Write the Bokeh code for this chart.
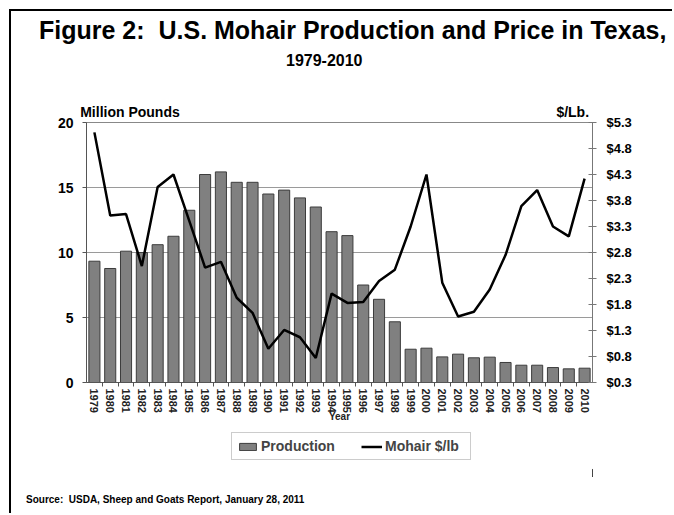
from bokeh.plotting import figure
from bokeh.layouts import column
from bokeh.models import (Range1d, LinearAxis, FixedTicker, NumeralTickFormatter,
                          Legend, LegendItem, Div)
from bokeh.embed import file_html
from bokeh.resources import INLINE

years = list(range(1979, 2011))
production = [9.33, 8.77, 10.1, 10.0, 10.6, 11.25, 13.25, 16.0, 16.2, 15.4, 15.4,
              14.5, 14.8, 14.2, 13.5, 11.6, 11.3, 7.5, 6.4, 4.67, 2.56, 2.64,
              1.97, 2.18, 1.9, 1.95, 1.54, 1.33, 1.33, 1.15, 1.05, 1.1]
price = [5.11, 3.51, 3.54, 2.54, 4.06, 4.3, 3.41, 2.51, 2.62, 1.93, 1.64,
         0.95, 1.31, 1.17, 0.77, 2.01, 1.83, 1.85, 2.25, 2.47, 3.3, 4.3,
         2.22, 1.57, 1.66, 2.09, 2.75, 3.69, 4.0, 3.3, 3.11, 4.22]
left_ticks = [0, 5, 10, 15, 20]
right_ticks = [0.3, 0.8, 1.3, 1.8, 2.3, 2.8, 3.3, 3.8, 4.3, 4.8, 5.3]
unit_labels = {1981.25: "Million Pounds", 2009.25: "$/Lb."}
title_1 = "Figure 2:  U.S. Mohair Production and Price in Texas,"
title_2 = "1979-2010"
source_note = "Source:  USDA, Sheep and Goats Report, January 28, 2011"

FONT = "Liberation Sans"
BAR_FILL = "#808080"
BAR_LINE = "#3c3c3c"

# ---- title strip
title_div = Div(
    width=672, height=98, margin=0,
    text=(f'<div style="font-family:\'{FONT}\';font-weight:bold;color:black;'
          f'white-space:pre;margin:15px 0 0 39px;font-size:25px;line-height:30px">{title_1}</div>'
          f'<div style="font-family:\'{FONT}\';font-weight:bold;color:black;'
          f'white-space:pre;margin:5.5px 0 0 286px;font-size:16px;line-height:20px">{title_2}</div>'))

# ---- main chart
p = figure(frame_width=506, frame_height=260, output_backend="svg",
           toolbar_location=None,
           x_range=Range1d(years[0] - 0.5, years[-1] + 0.5), y_range=Range1d(0, 20),
           min_border_left=86, min_border_right=73, min_border_top=24,
           min_border_bottom=45)
p.outline_line_color = "#888888"
p.background_fill_color = "white"
p.border_fill_color = None
p.extra_y_ranges = {"price": Range1d(0.3, 5.3)}

p.vbar(x=years, top=production, width=0.7, fill_color=BAR_FILL,
       line_color=BAR_LINE, line_width=1)
p.line(x=years, y=price, y_range_name="price", line_color="black", line_width=2.5)

p.xgrid.grid_line_color = None
p.ygrid.ticker = FixedTicker(ticks=[5, 10, 15])
p.ygrid.grid_line_color = "#9a9a9a"

ya = p.yaxis[0]
ya.ticker = FixedTicker(ticks=left_ticks)
ya.axis_line_color = "#555555"
ya.major_tick_line_color = "#555555"
ya.major_tick_out = 4
ya.major_tick_in = 0
ya.minor_tick_line_color = None
ya.major_label_text_font = FONT
ya.major_label_text_font_style = "bold"
ya.major_label_text_font_size = "14px"
ya.major_label_text_color = "black"
ya.major_label_standoff = 9

xa = p.xaxis[0]
xa.ticker = FixedTicker(ticks=years, minor_ticks=[y + 0.5 for y in years[:-1]])
xa.formatter = NumeralTickFormatter(format="0")
xa.axis_line_color = "#555555"
xa.major_tick_line_color = None
xa.minor_tick_line_color = "#555555"
xa.minor_tick_out = 4
xa.minor_tick_in = 0
xa.major_tick_out = 4
xa.major_tick_in = 0
xa.major_label_orientation = "vertical"
xa.major_label_text_font = FONT
xa.major_label_text_font_size = "11px"
xa.major_label_text_font_style = "bold"
xa.major_label_text_color = "#222222"
xa.major_label_standoff = 2
xa.axis_label = "Year"
xa.axis_label_text_font = FONT
xa.axis_label_text_font_size = "10px"
xa.axis_label_text_font_style = "bold"
xa.axis_label_text_color = "#222222"
xa.axis_label_standoff = -5

ra = LinearAxis(y_range_name="price", ticker=FixedTicker(ticks=right_ticks),
                formatter=NumeralTickFormatter(format="$0.0"))
ra.axis_line_color = "#777777"
ra.major_tick_line_color = "#777777"
ra.major_tick_out = 4
ra.major_tick_in = 4
ra.minor_tick_line_color = None
ra.major_label_text_font = FONT
ra.major_label_text_font_style = "bold"
ra.major_label_text_font_size = "13px"
ra.major_label_text_color = "black"
ra.major_label_standoff = 10
p.add_layout(ra, "right")

ua = LinearAxis(ticker=FixedTicker(ticks=list(unit_labels.keys())),
                major_label_overrides=unit_labels)
ua.axis_line_color = None
ua.major_tick_line_color = None
ua.major_tick_out = 0
ua.major_tick_in = 0
ua.minor_tick_line_color = None
ua.major_label_text_font = FONT
ua.major_label_text_font_style = "bold"
ua.major_label_text_font_size = "14px"
ua.major_label_text_color = "black"
ua.major_label_standoff = 3
p.add_layout(ua, "above")

# ---- legend strip (key glyphs use the real series, which fall outside this strip's ranges)
p2 = figure(frame_width=506, frame_height=50, output_backend="svg",
            toolbar_location=None, x_range=Range1d(0, 1000), y_range=Range1d(0, 100),
            x_axis_location=None, y_axis_location=None,
            min_border_left=86, min_border_right=73, min_border_top=0,
            min_border_bottom=0)
p2.outline_line_color = None
p2.background_fill_color = None
p2.border_fill_color = None
p2.grid.visible = False

key_bar = p2.vbar(x=years, top=production, width=0.7, fill_color=BAR_FILL,
                  line_color=BAR_LINE, line_width=1)
key_line = p2.line(x=years, y=price, line_color="black", line_width=2.5)

legend = Legend(items=[LegendItem(label="Production", renderers=[key_bar]),
                       LegendItem(label="Mohair $/lb", renderers=[key_line])],
                location=(145, 17), orientation="horizontal",
                label_text_font=FONT, label_text_font_style="bold",
                label_text_font_size="14px", glyph_width=21, glyph_height=9,
                label_standoff=3, label_width=80, spacing=20, padding=5,
                margin=0, border_line_color="#999999", label_height=15,
                background_fill_color="white")
p2.add_layout(legend, "center")

# ---- source strip
source_div = Div(
    width=672, height=36, margin=0,
    text=(f'<div style="font-family:\'{FONT}\';font-weight:bold;color:black;'
          f'white-space:pre;margin:16.5px 0 0 26px;font-size:10px;line-height:12px">{source_note}</div>'))

layout = column(title_div, p, p2, source_div, spacing=0,
                styles={"box-shadow": "inset 9px 9px 0 0 white, inset 11px 11px 0 0 black"})
open("out.html", "w").write(file_html(layout, INLINE))
